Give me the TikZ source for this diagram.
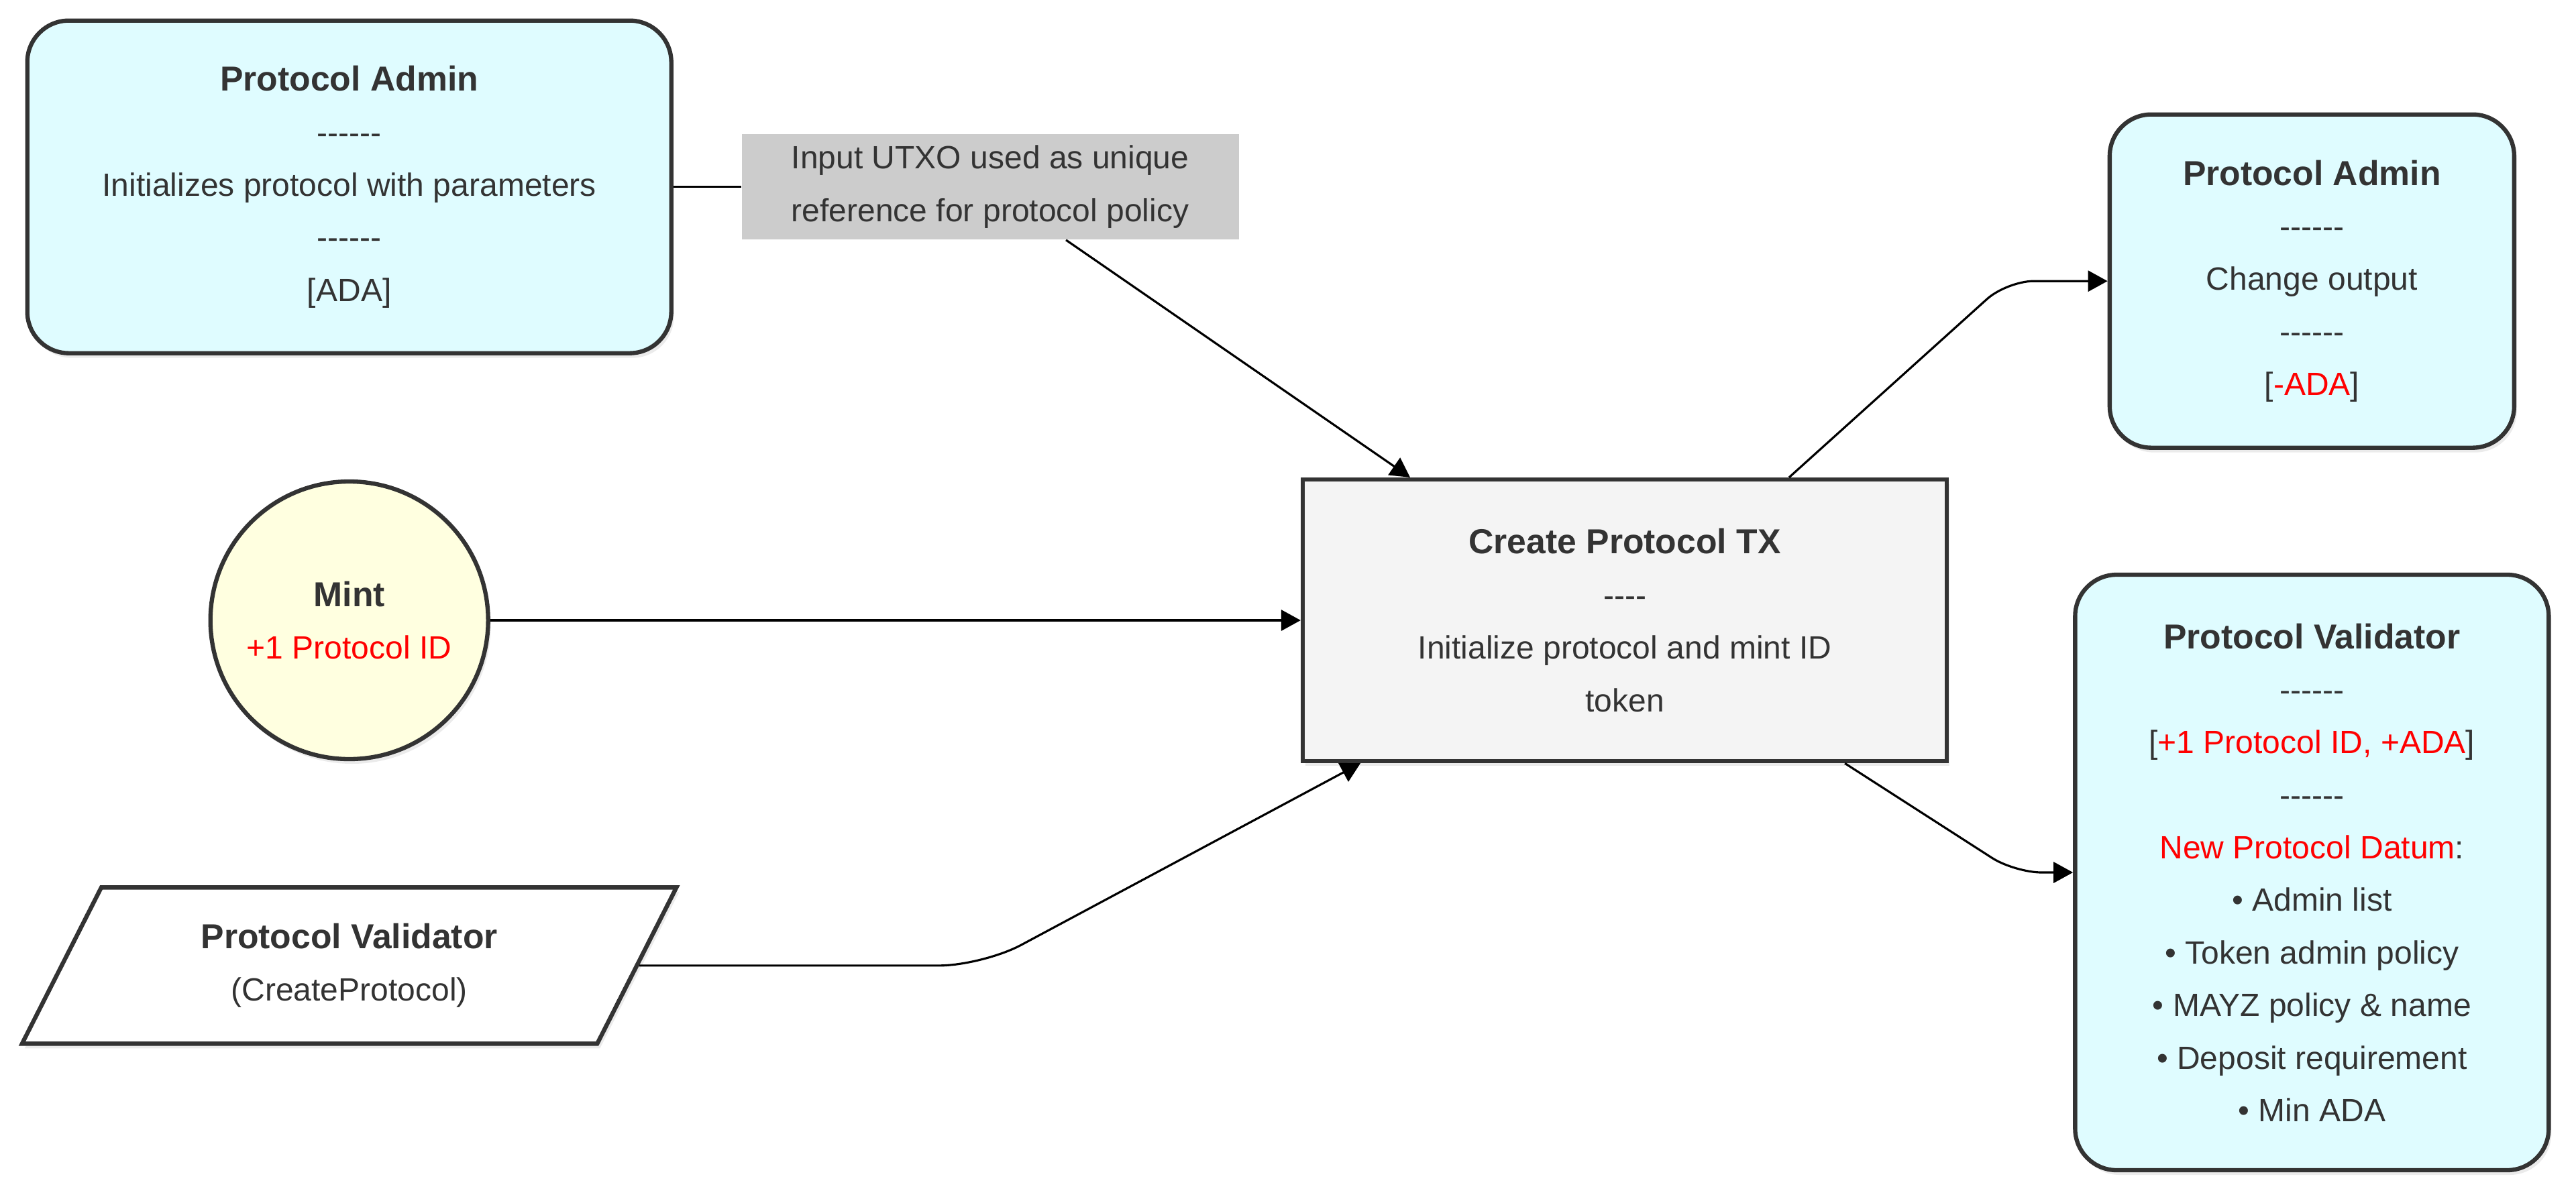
\documentclass[tikz,border=0pt]{standalone}
\usepackage{fontspec}
\setmainfont{Liberation Sans}
\usepackage{xcolor}
\usepackage{tikz}
\usetikzlibrary{
  arrows.meta,
  positioning,
  shapes.geometric,
  shadows,
}

\definecolor{inkgray}{HTML}{333333}
\definecolor{utxocyan}{HTML}{DFFCFF}
\definecolor{mintyellow}{HTML}{FFFFE0}
\definecolor{txgray}{HTML}{F4F4F4}
\definecolor{notegray}{HTML}{CCCCCC}

\newcommand{\bodyfont}{\fontsize{13.66}{22.3}\selectfont}
\newcommand{\nodetitle}[1]{{\fontsize{14.7}{22.3}\selectfont\bfseries #1}}
\newcommand{\redtxt}[1]{\textcolor{red}{#1}}
\newcommand{\dashsix}{\mbox{-}\mbox{-}\mbox{-}\mbox{-}\mbox{-}\mbox{-}}
\newcommand{\dashfour}{\mbox{-}\mbox{-}\mbox{-}\mbox{-}}

\begin{document}
\begin{tikzpicture}[
  >={Triangle[length=0.29cm,width=0.31cm]},
  softshadow/.style={
    drop shadow={shadow xshift=0.04cm, shadow yshift=-0.07cm,
                 opacity=0.08, fill=black},
  },
  utxo/.style={
    draw=inkgray, line width=1.8pt, rounded corners=0.62cm,
    fill=utxocyan, align=center, font=\bodyfont, text=inkgray,
    softshadow,
  },
  txbox/.style={
    draw=inkgray, line width=1.8pt, fill=txgray, align=center,
    font=\bodyfont, text=inkgray, softshadow,
  },
  mintbox/.style={
    circle, draw=inkgray, line width=1.8pt, fill=mintyellow,
    align=center, font=\bodyfont, text=inkgray, softshadow,
  },
  scriptbox/.style={
    trapezium, trapezium left angle=63.5, trapezium right angle=116.5,
    trapezium stretches=true, draw=inkgray, line width=1.8pt,
    fill=white, align=center, font=\bodyfont, text=inkgray, softshadow,
  },
  note/.style={
    fill=notegray, align=center, font=\bodyfont, text=inkgray,
  },
  link/.style={line width=0.9pt},
  arr/.style={->, line width=0.9pt},
]
\useasboundingbox (0,0) rectangle (38.40,-17.81);

% ── Transaction ─────────────────────────────────────────────────────
\node[txbox, minimum width=9.60cm, minimum height=4.20cm] (tx) at (24.22,-9.25)
  {\nodetitle{Create Protocol TX}\\\dashfour\\Initialize protocol and mint ID\\token};

% ── Inputs ──────────────────────────────────────────────────────────
\node[mintbox, minimum size=4.14cm, left=12.08cm of tx] (mint)
  {\nodetitle{Mint}\\\redtxt{+1 Protocol ID}};
\node[utxo, minimum width=9.60cm, minimum height=4.96cm, above=1.85cm of mint] (admin)
  {\nodetitle{Protocol Admin}\\\dashsix\\Initializes protocol with parameters\\\dashsix\\{[}ADA{]}};
\node[scriptbox, minimum width=9.78cm, minimum height=2.33cm, below=1.85cm of mint] (validator)
  {\nodetitle{Protocol Validator}\\(CreateProtocol)};
\node[note, minimum width=7.41cm, minimum height=1.57cm, right=1.01cm of admin] (utxonote)
  {Input UTXO used as unique\\reference for protocol policy};

% ── Outputs ─────────────────────────────────────────────────────────
\node[utxo, minimum width=7.06cm, minimum height=8.88cm, right=1.85cm of tx, yshift=-3.76cm] (newvalidator)
  {\nodetitle{Protocol Validator}\\\dashsix\\{[}\redtxt{+1 Protocol ID, +ADA}{]}\\\dashsix\\
   \redtxt{New Protocol Datum}:\\\textbullet\ Admin list\\\textbullet\ Token admin policy\\
   \textbullet\ MAYZ policy \& name\\\textbullet\ Deposit requirement\\\textbullet\ Min ADA};
\node[utxo, minimum width=6.03cm, minimum height=4.97cm, above=1.83cm of newvalidator] (change)
  {\nodetitle{Protocol Admin}\\\dashsix\\Change output\\\dashsix\\{[}\redtxt{-ADA}{]}};

% ── Connections ─────────────────────────────────────────────────────
\draw[link] (admin.east) -- (utxonote.west);
\draw[arr] ([xshift=1.13cm]utxonote.south) -- ([xshift=-3.2cm]tx.north);
\draw[arr] (mint) -- (tx);
\draw[arr, rounded corners=0.65cm] (validator.east) -- ++(5.12,0) -- ([xshift=-3.94cm]tx.south);
\draw[arr, rounded corners=0.4cm] ([xshift=2.45cm]tx.north) -- ([xshift=-1.5cm]change.west) -- (change.west);
\draw[arr, rounded corners=0.4cm] ([xshift=3.28cm]tx.south) -- ([xshift=-0.87cm]newvalidator.west) -- (newvalidator.west);

\end{tikzpicture}
\end{document}
